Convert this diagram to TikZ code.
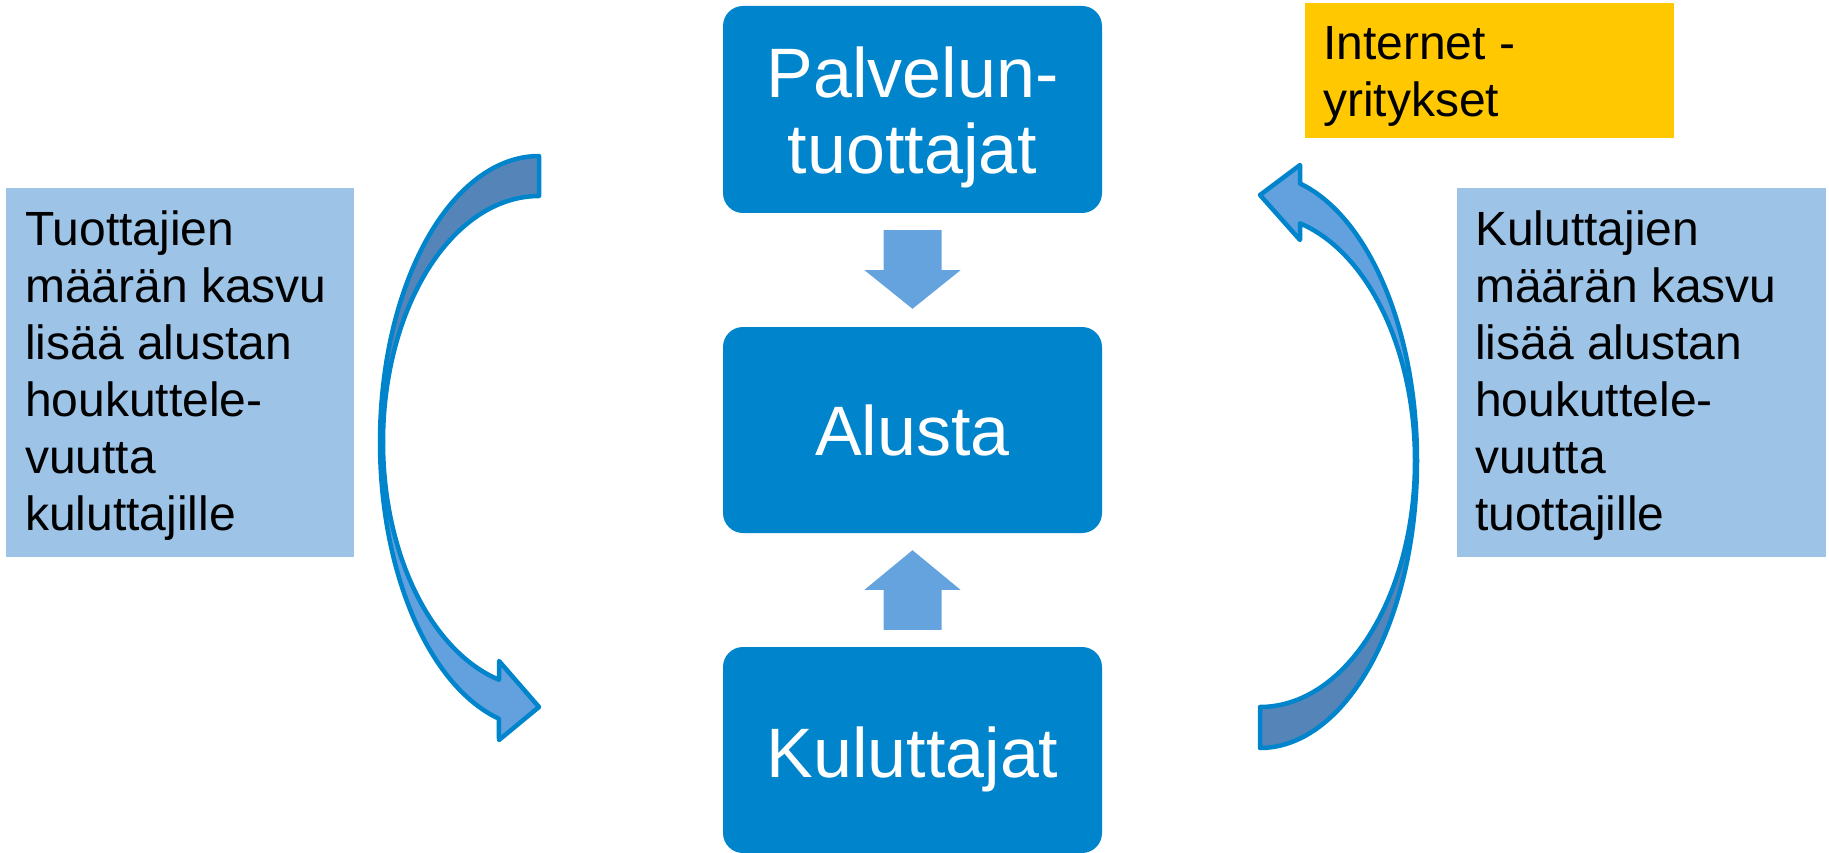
\documentclass[tikz,border=0pt]{standalone}
\usepackage{fontspec}
\setmainfont{Liberation Sans}
\usetikzlibrary{calc}
\definecolor{boxblue}{HTML}{0084CC}
\definecolor{infoblue}{HTML}{9DC3E6}
\definecolor{arrowblue}{HTML}{65A3DE}
\definecolor{darkband}{HTML}{5585B8}
\definecolor{lightband}{HTML}{62A0DE}
\definecolor{yellowbox}{HTML}{FFC800}
\begin{document}
\begin{tikzpicture}[x=1pt,y=-1pt,
  bigbox/.style={draw=none, fill=boxblue, rounded corners=20pt, minimum width=379pt, inner sep=0pt},
  bigtext/.style={text=white, font=\fontsize{70}{76}\selectfont, align=center, inner sep=0pt},
  infobox/.style={fill=infoblue, minimum width=348pt, minimum height=369pt, inner sep=0pt},
  infotext/.style={font=\fontsize{48}{57}\selectfont, align=left, inner sep=0pt, anchor=north west},
  blockarrow/.style={fill=arrowblue, draw=none},
  bandlight/.style={fill=lightband, draw=boxblue, line width=4.5pt, line join=round},
  banddark/.style={fill=darkband, draw=boxblue, line width=4.5pt, line join=round}
]
\useasboundingbox (0,0) rectangle (1829,853);

% central boxes
\node[bigbox, minimum height=207pt] (top) at (912.5,109.5) {};
\node[bigtext, anchor=north] (toptext) at (912.5,46.7) {Palvelun-\\tuottajat};
\node[bigbox, minimum height=206pt] (alusta) at (912.5,430) {};
\node[bigtext, anchor=base] (alustatext) at (912.5,455) {Alusta};
\node[bigbox, minimum height=206pt] (kul) at (912.5,750) {};
\node[bigtext, anchor=base] (kultext) at (912.5,777) {Kuluttajat};

% block arrows
\draw[blockarrow] ($(top.south)+(-29,17)$) -- ($(top.south)+(29,17)$) -- ($(top.south)+(29,57)$) -- ($(top.south)+(48,57)$) -- ($(alusta.north)+(0,-18)$) -- ($(top.south)+(-48,57)$) -- ($(top.south)+(-29,57)$) -- cycle;
\draw[blockarrow] ($(kul.north)+(-29,-17)$) -- ($(kul.north)+(29,-17)$) -- ($(kul.north)+(29,-57)$) -- ($(kul.north)+(48,-57)$) -- ($(alusta.south)+(0,17)$) -- ($(kul.north)+(-48,-57)$) -- ($(kul.north)+(-29,-57)$) -- cycle;

% info boxes
\node[infobox] (leftbox) at (180,372.5) {};
\node[infotext] (lefttext) at (25,210.6) {Tuottajien\\määrän kasvu\\lisää alustan\\houkuttele-\\vuutta\\kuluttajille};
\node[infobox, minimum width=369pt] (rightbox) at (1641.5,372.5) {};
\node[infotext] (righttext) at (1475,210.6) {Kuluttajien\\määrän kasvu\\lisää alustan\\houkuttele-\\vuutta\\tuottajille};
\node[fill=yellowbox, minimum width=369pt, minimum height=135pt, inner sep=0pt] (yellow) at (1489.5,70.5) {};
\node[infotext] (yellowtext) at (1323,26.6) {Internet -\\yritykset};

% left curved arrow
\draw[bandlight] plot[smooth, samples=40, domain=180:104.6] ({539+159*cos(\x)},{442+286*sin(\x)})
  -- (499,740) -- (539,707) -- (499,661)
  -- plot[smooth, samples=40, domain=104.86:180] ({539+156*cos(\x)},{442+246*sin(\x)}) -- cycle;
\draw[banddark] plot[smooth, samples=40, domain=180:270] ({539+159*cos(\x)},{442+286*sin(\x)})
  -- plot[smooth, samples=40, domain=270:180] ({539+156*cos(\x)},{442+246*sin(\x)}) -- cycle;

% right curved arrow
\draw[bandlight] plot[smooth, samples=40, domain=0:-75.24] ({1260+157*cos(\x)},{461+287*sin(\x)})
  -- (1300,165) -- (1260,195) -- (1300,240)
  -- plot[smooth, samples=40, domain=-75.04:0] ({1260+155*cos(\x)},{461+246*sin(\x)}) -- cycle;
\draw[banddark] plot[smooth, samples=40, domain=0:90] ({1260+157*cos(\x)},{461+287*sin(\x)})
  -- plot[smooth, samples=40, domain=90:0] ({1260+155*cos(\x)},{461+246*sin(\x)}) -- cycle;
\end{tikzpicture}
\end{document}
